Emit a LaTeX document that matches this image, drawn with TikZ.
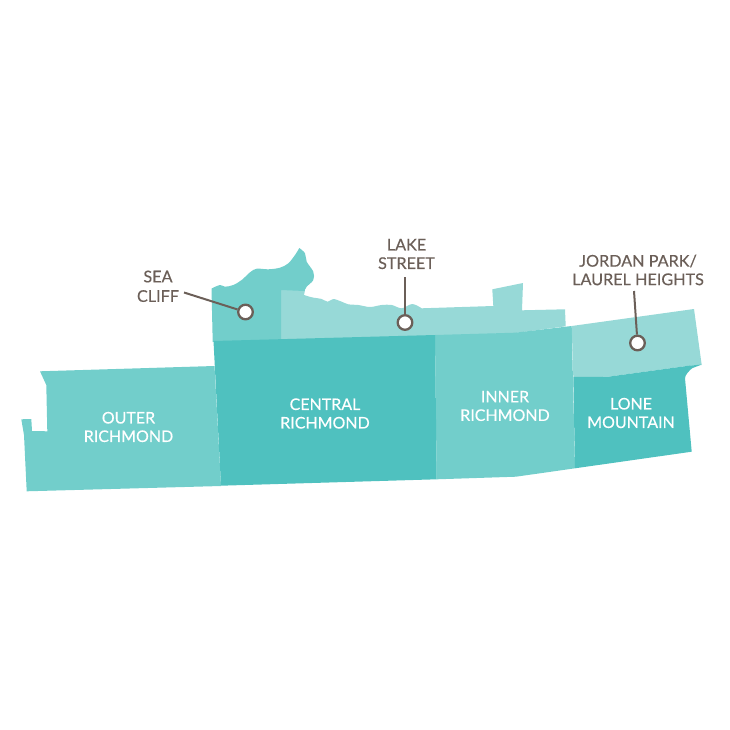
\documentclass[tikz,border=0pt]{standalone}
\usepackage{fontspec}
\setmainfont[FakeBold=0.35]{Lato}
\definecolor{lightteal}{HTML}{97D9D7}
\definecolor{midteal}{HTML}{72CECB}
\definecolor{darkteal}{HTML}{4FC1BF}
\definecolor{inkgray}{HTML}{6B5F58}
\tikzset{
  region/.style={draw=none},
  arealabel/.style={text=white,align=center,font=\fontsize{16}{18.5}\selectfont,inner sep=0pt},
  placelabel/.style={text=inkgray,align=center,font=\fontsize{16.2}{18.5}\selectfont,inner sep=0pt},
  marker/.style={circle,draw=inkgray,fill=white,line width=2.3pt,minimum size=14.6pt,inner sep=0pt},
  leader/.style={draw=inkgray,line width=2pt}
}
\begin{document}
\begin{tikzpicture}[x=1pt,y=-1pt]
\useasboundingbox (0,0) rectangle (730,730);
% Lake Street
\fill[region,lightteal] (281,290) -- (305,290) -- plot[smooth,tension=.55] coordinates {(304,295) (311.7,297.3) (321.7,299) (327.7,301.7) (333.3,299) (341.7,301.7) (348.3,304.3) (358.3,305) (370,307) (381.7,305) (391.7,305) (401.7,308.3) (412.3,304) (421.7,308.3)} -- (493.3,306) -- (492.3,289.3) -- (523,283) -- (522,310.3) -- (565,309.3) -- (565.7,326.3) -- (515,333) -- (435,336) -- (281,340) -- cycle;
% Sea Cliff
\fill[region,midteal] plot[smooth,tension=.55] coordinates {(211.5,288.5) (220,285) (225,286.7) (233.3,285) (241.7,280) (250,272.3) (256.7,268.7) (268.3,269.3) (280,267.7) (288.3,263.3) (295,255) (299.3,248)} -- plot[smooth,tension=.55] coordinates {(299.3,248) (305,253.3) (306.7,261.7) (313.3,271.7) (313.3,280) (306.7,286.7) (304.5,291)} -- (281,290) -- (281,341) -- (212.7,342) -- cycle;
% Outer Richmond
\fill[region,midteal] (40,371.3) -- (214.5,366) -- (221,486) -- (26.7,491.3) -- (24,435) -- (21.3,419.3) -- (31.3,419) -- (32,431) -- (47.3,431.3) -- (46.3,385) -- cycle;
% Inner Richmond
\fill[region,midteal] (435,335) -- (515,332.7) -- (571.7,326) -- (575,468.3) -- (516,476.7) -- (436.7,479.3) -- cycle;
% Jordan Park
\fill[region,lightteal] (571.7,326) -- (694,309) -- (701.7,365) -- (686.7,366) -- (608.3,376.7) -- (573.3,377) -- cycle;
% Central Richmond
\fill[region,darkteal] (213.5,341) -- (435,335) -- (436.7,479.3) -- (221,485.7) -- cycle;
% Lone Mountain
\fill[region,darkteal] (573.3,377) -- (608.3,376.7) -- (686.7,366) -- (701.7,364.5) -- (692,368.3) .. controls (689,371) and (685,375) .. (685,378.3) -- (691.7,451.7) -- (575,468.3) -- cycle;
% Area labels
\node[arealabel] (outer) at (128.5,427) {OUTER\\RICHMOND};
\node[arealabel] (central) at (325,413.5) {CENTRAL\\RICHMOND};
\node[arealabel] (inner) at (505,406) {INNER\\RICHMOND};
\node[arealabel] (lone) at (631,413) {LONE\\MOUNTAIN};
% Place labels
\node[placelabel,font=\fontsize{16.2}{19.5}\selectfont] (sealabel) at (158,286.3) {SEA\\CLIFF};
\node[placelabel] (lakelabel) at (406.5,254) {LAKE\\STREET};
\node[placelabel] (jordanlabel) at (638,270) {JORDAN PARK/\\LAUREL HEIGHTS};
% Markers and leaders
\coordinate (seastart) at (184,292.5);
\coordinate (lakestart) at (405,277);
\coordinate (jordanstart) at (634,291);
\node[marker] (seamark) at (245.5,312) {};
\node[marker] (lakemark) at (405,322.5) {};
\node[marker] (jordanmark) at (637.5,343) {};
\draw[leader] (seastart) -- (seamark);
\draw[leader] (lakestart) -- (lakemark);
\draw[leader] (jordanstart) -- (jordanmark);
\end{tikzpicture}
\end{document}
